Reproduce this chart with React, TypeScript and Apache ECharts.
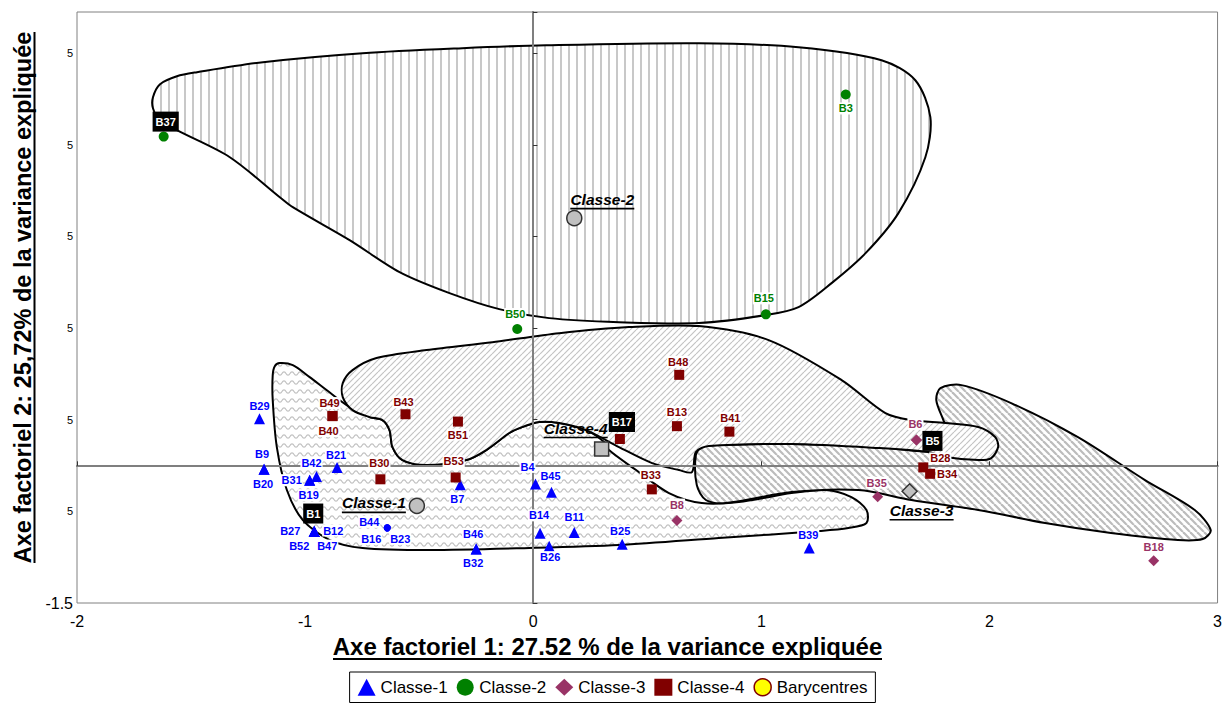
import React, { useEffect, useRef } from "react";
import * as echarts from "echarts";

// ---------------- Data ----------------
const class1Names = ["B29","B9","B20","B42","B31","B19","B21","B27","B12","B52","B47","B1","B44","B16","B23","B7","B46","B32","B4","B45","B14","B26","B11","B25","B39"];
const class1X = [-1.20,-1.18,-1.18,-0.95,-0.98,-0.98,-0.86,-0.96,-0.96,-0.96,-0.96,-0.96,-0.64,-0.64,-0.64,-0.32,-0.25,-0.25,0.01,0.08,0.03,0.07,0.18,0.39,1.21];
const class1Y = [0.51,-0.04,-0.04,-0.12,-0.16,-0.16,-0.02,-0.72,-0.72,-0.72,-0.72,-0.72,-0.68,-0.68,-0.68,-0.21,-0.91,-0.91,-0.20,-0.29,-0.74,-0.88,-0.73,-0.86,-0.90];
const class1SmallDots = ["B44","B16","B23"];

const class2Names = ["B37","B3","B15","B50"];
const class2X = [-1.62,1.37,1.02,-0.07];
const class2Y = [3.59,4.05,1.65,1.49];

const class3Names = ["B6","B5","B35","B8","B18"];
const class3X = [1.68,1.68,1.51,0.63,2.72];
const class3Y = [0.28,0.28,-0.34,-0.60,-1.04];

const class4Names = ["B49","B40","B43","B51","B30","B53","B48","B13","B41","B17","B33","B28","B34"];
const class4X = [-0.88,-0.88,-0.56,-0.33,-0.67,-0.34,0.64,0.63,0.86,0.38,0.52,1.71,1.74];
const class4Y = [0.54,0.54,0.56,0.48,-0.15,-0.13,0.99,0.43,0.37,0.29,-0.26,-0.02,-0.09];

const baryNames = ["Classe-1","Classe-2","Classe-3","Classe-4"];
const baryX = [-0.51,0.18,1.65,0.30];
const baryY = [-0.44,2.70,-0.28,0.18];
const barySymbols = ["circle","circle","diamond","rect"];

const boxedLabels = ["B1","B37","B5","B17"];

// Outlines of the hand-drawn class envelopes (data coordinates)
const region2X = [-1.667,-1.636,-1.562,-1.474,-1.185,-0.748,-0.311,0.057,0.726,1.163,1.527,1.675,1.741,1.719,1.601,1.457,1.308,1.163,1.019,0.726,0.376,0.070,-0.149,-0.367,-0.586,-0.805,-1.054,-1.111,-1.330,-1.562,-1.636,-1.667];
const region2Y = [4.020,4.162,4.249,4.293,4.402,4.500,4.555,4.587,4.609,4.565,4.424,4.205,3.802,3.365,2.755,2.318,1.991,1.729,1.642,1.555,1.565,1.609,1.707,1.882,2.111,2.460,2.820,2.929,3.365,3.660,3.769,3.900];

const region1X = [-1.111,-1.054,-0.980,-0.906,-0.818,-0.717,-0.661,-0.630,-0.617,-0.573,-0.468,-0.293,-0.206,-0.105,-0.061,0.026,0.114,0.232,0.311,0.332,0.451,0.595,0.739,0.901,1.133,1.282,1.395,1.461,1.461,1.382,1.251,0.814,0.376,-0.017,-0.455,-0.748,-0.892,-1.010,-1.080,-1.124,-1.142,-1.142,-1.133];
const region1Y = [1.118,1.096,0.965,0.824,0.660,0.529,0.496,0.387,0.202,0.060,0.005,0.060,0.169,0.355,0.409,0.475,0.464,0.387,0.256,0.169,-0.049,-0.300,-0.409,-0.398,-0.300,-0.267,-0.344,-0.485,-0.627,-0.682,-0.715,-0.791,-0.867,-0.900,-0.922,-0.900,-0.813,-0.595,-0.267,0.202,0.715,0.987,1.085];

const region3X = [0.713,0.739,0.814,1.133,1.514,1.776,1.820,1.798,1.767,1.785,1.877,2.095,2.388,2.682,2.900,2.970,2.935,2.826,2.533,2.244,1.951,1.658,1.426,1.133,0.844,0.757,0.717];
const region3Y = [0.115,0.202,0.224,0.235,0.202,0.158,0.333,0.496,0.715,0.845,0.878,0.682,0.311,-0.158,-0.485,-0.704,-0.802,-0.813,-0.736,-0.627,-0.485,-0.376,-0.267,-0.289,-0.409,-0.376,-0.213];

const region4X = [-0.835,-0.792,-0.687,-0.468,-0.179,0.114,0.420,0.726,1.032,1.352,1.544,1.658,1.806,1.951,2.025,2.038,2.008,1.951,1.806,1.732,1.514,1.133,0.770,0.713,0.696,0.639,0.521,0.376,0.232,0.114,0.026,-0.061,-0.105,-0.206,-0.293,-0.468,-0.573,-0.617,-0.630,-0.661,-0.717,-0.792,-0.835];
const region4Y = [0.900,1.042,1.173,1.260,1.347,1.445,1.511,1.522,1.369,0.933,0.573,0.496,0.464,0.420,0.311,0.202,0.082,0.060,0.093,0.147,0.191,0.235,0.213,0.147,-0.071,-0.049,0.027,0.202,0.387,0.464,0.475,0.409,0.355,0.169,0.060,0.005,0.060,0.202,0.387,0.496,0.529,0.605,0.747];

const xTicks = { min: -2, max: 3, interval: 1 };
const yTicks = { min: -1.5, max: 4.95, interval: 1 };

// ---------------- Layout / style ----------------
const FONT = '"Liberation Sans", Arial, sans-serif';
const labelOffsets: Record<string, number[]> = {
  B29: [0, -13], B9: [-2, -15], B20: [-1, 15], B42: [-5, -14], B31: [-18, 0], B19: [-1, 15],
  B21: [-1, -12], B27: [-24, -1], B12: [19, -1], B52: [-15, 14], B47: [13, 14], B1: [-1, -18],
  B44: [-18, -6], B16: [-16, 11], B23: [13, 11], B7: [-3, 14], B46: [-3, -15], B32: [-3, 14],
  B4: [-8, -17], B45: [-1, -16], B14: [-1, -18], B26: [1, 11], B11: [0, -15], B25: [-2, -13], B39: [-1, -13],
  B37: [2, -15], B3: [0, 14], B15: [-2, -16], B50: [-2, -15],
  B6: [-1, -16], B5: [16, 1], B35: [-1, -14], B8: [0, -16], B18: [0, -14],
  B49: [-3, -13], B40: [-4, 15], B43: [-2, -12], B51: [0, 13], B30: [-1, -16], B53: [-2, -16],
  B48: [-1, -13], B13: [0, -14], B41: [1, -14], B17: [2, -17], B33: [-1, -14], B28: [17, -9], B34: [17, 0],
  "Classe-1": [-43, -2], "Classe-2": [28, -18], "Classe-3": [12, 20], "Classe-4": [-26, -20],
};

function makePattern(kind: string) {
  const c = document.createElement("canvas");
  let w = 8, h = 8;
  if (kind === "wave") { w = 8; h = 9; }
  if (kind === "up") { w = 6; h = 6; }
  if (kind === "down") { w = 7; h = 7; }
  c.width = w; c.height = h;
  const g = c.getContext("2d")!;
  g.fillStyle = "#ffffff";
  g.fillRect(0, 0, w, h);
  if (kind === "vert") {
    g.fillStyle = "#c8c8c8";
    g.fillRect(0, 0, 2, h);
  } else if (kind === "up" || kind === "down") {
    g.strokeStyle = kind === "up" ? "#c4c4c4" : "#bcbcbc";
    g.lineWidth = kind === "up" ? 1.2 : 2.2;
    for (const k of [-w, 0, w]) {
      g.beginPath();
      if (kind === "up") { g.moveTo(k, h); g.lineTo(k + w, 0); }
      else { g.moveTo(k, 0); g.lineTo(k + w, h); }
      g.stroke();
    }
  } else if (kind === "wave") {
    g.strokeStyle = "#c0c0c0";
    g.lineWidth = 1.2;
    g.beginPath();
    for (let x = -1; x <= w + 1; x += 0.5) {
      const y = 4.5 + 1.7 * Math.cos((2 * Math.PI * x) / 8);
      if (x === -1) g.moveTo(x, y); else g.lineTo(x, y);
    }
    g.stroke();
  }
  return { image: c, repeat: "repeat", imageWidth: w, imageHeight: h };
}

function buildPoints(names: string[], xs: number[], ys: number[], color: string) {
  return names.map((n, i) => {
    const boxed = boxedLabels.includes(n);
    const small = class1SmallDots.includes(n);
    const item: any = {
      name: n,
      value: [xs[i], ys[i]],
      label: {
        show: true,
        formatter: n,
        position: "inside",
        offset: labelOffsets[n] || [0, -14],
        color: boxed ? "#ffffff" : color,
        fontWeight: "bold",
        fontSize: 11,
        fontFamily: FONT,
        backgroundColor: boxed ? "#000000" : "#ffffff",
        padding: boxed ? [5, 3, 4, 3] : [1, 1, 0, 1],
      },
    };
    if (small) { item.symbol = "circle"; item.symbolSize = 7; }
    return item;
  });
}

export default function App() {
  const ref = useRef<HTMLDivElement>(null);
  useEffect(() => {
    if (!ref.current) return;
    const chart = echarts.init(ref.current, undefined, { renderer: "svg" });

    const regions = [
      { xs: region2X, ys: region2Y, fill: makePattern("vert") },
      { xs: region1X, ys: region1Y, fill: makePattern("wave") },
      { xs: region3X, ys: region3Y, fill: makePattern("down") },
      { xs: region4X, ys: region4Y, fill: makePattern("up") },
    ];

    const zeroAxisX = (pos: string) => ({
      type: "value", ...xTicks, position: pos, z: 3,
      axisLine: { onZero: true, onZeroAxisIndex: 0, lineStyle: { color: "#7f7f7f", width: 2 } },
      axisTick: { show: true, length: 4, lineStyle: { color: "#333", width: 1 } },
      axisLabel: { show: false }, splitLine: { show: false },
    });
    const zeroAxisY = (pos: string) => ({
      type: "value", ...yTicks, position: pos, z: 3,
      axisLine: { onZero: true, onZeroAxisIndex: 0, lineStyle: { color: "#7f7f7f", width: 2 } },
      axisTick: { show: true, length: 4, lineStyle: { color: "#333", width: 1 } },
      axisLabel: { show: false }, splitLine: { show: false },
    });

    const baryData = baryNames.map((n, i) => ({
      name: n,
      value: [baryX[i], baryY[i]],
      symbol: barySymbols[i],
      symbolSize: barySymbols[i] === "rect" ? 14 : 15,
      label: {
        show: true,
        position: "inside",
        offset: labelOffsets[n],
        formatter: `{t|${n}}\n{u|}`,
        rich: {
          t: { fontSize: 15.5, fontWeight: "bold", fontStyle: "italic", fontFamily: FONT, color: "#000", lineHeight: 17 },
          u: { width: 64, height: 1.6, backgroundColor: "#000", lineHeight: 2 },
        },
      },
    }));

    const scatterBase = (name: string, symbol: string, size: number, color: string) => ({
      type: "scatter", name, z: 5, symbol, symbolSize: size,
      itemStyle: { color, opacity: 1 },
      emphasis: { disabled: true },
    });

    const option: any = {
      animation: false,
      backgroundColor: "#ffffff",
      grid: { left: 77, top: 12, right: 5, bottom: 101, show: true, borderColor: "#808080", borderWidth: 1 },
      xAxis: [
        {
          type: "value", ...xTicks, position: "bottom",
          axisLine: { show: false }, axisTick: { show: false }, splitLine: { show: false },
          axisLabel: { fontSize: 16, fontFamily: FONT, color: "#000", margin: 10 },
        },
        zeroAxisX("top"),
        zeroAxisX("top"),
      ],
      yAxis: [
        {
          type: "value", ...yTicks, position: "left",
          axisLine: { show: false }, axisTick: { show: false }, splitLine: { show: false },
          axisLabel: {
            margin: 4, fontFamily: FONT, color: "#000", fontSize: 16,
            formatter: (v: number) => (Math.abs(v + 1.5) < 1e-6 ? "-1.5" : v > 4.6 ? "" : "{s|5}"),
            rich: { s: { fontSize: 11, fontFamily: FONT, color: "#000" } },
          },
        },
        zeroAxisY("right"),
        zeroAxisY("right"),
      ],
      legend: {
        data: [
          { name: "Classe-1", icon: "triangle" },
          { name: "Classe-2", icon: "circle" },
          { name: "Classe-3", icon: "diamond" },
          { name: "Classe-4", icon: "rect" },
          { name: "Barycentres", icon: "circle", itemStyle: { color: "#ffff00", borderColor: "#800000", borderWidth: 1.5 } },
        ],
        left: "center",
        top: 672,
        itemWidth: 18,
        itemHeight: 17,
        itemGap: 9,
        padding: [6, 8, 6, 8],
        borderColor: "#000",
        borderWidth: 1,
        selectedMode: false,
        textStyle: { fontSize: 17, fontFamily: FONT, color: "#000", lineHeight: 18 },
      },
      graphic: [
        {
          type: "text", x: 23, y: 297.5, rotation: Math.PI / 2,
          style: { text: "Axe factoriel 2: 25,72% de la variance expliquée", font: `bold 23.5px ${FONT}`, fill: "#000", align: "center", verticalAlign: "middle" },
        },
        { type: "rect", shape: { x: 33.5, y: 32, width: 2, height: 531 }, style: { fill: "#000" } },
        {
          type: "text", x: 607.5, y: 646.5,
          style: { text: "Axe factoriel 1: 27.52 % de la variance expliquée", font: `bold 24px ${FONT}`, fill: "#000", align: "center", verticalAlign: "middle" },
        },
        { type: "rect", shape: { x: 333, y: 658, width: 549, height: 2 }, style: { fill: "#000" } },
      ],
      series: [
        {
          type: "custom",
          name: "envelopes",
          z: 1,
          silent: true,
          clip: false,
          data: regions.map((r, i) => [r.xs[0], r.ys[0], i]),
          encode: { x: 0, y: 1 },
          renderItem: (params: any, api: any) => {
            const r = regions[params.dataIndex];
            const pts = r.xs.map((x: number, i: number) => api.coord([x, r.ys[i]]));
            return {
              type: "polygon",
              shape: { points: pts, smooth: 0.3 },
              style: { fill: r.fill, stroke: "#000", lineWidth: 2 },
            };
          },
        },
        { ...scatterBase("Classe-1", "triangle", 11, "#0000ff"), data: buildPoints(class1Names, class1X, class1Y, "#0000ff") },
        { ...scatterBase("Classe-2", "circle", 10, "#008000"), data: buildPoints(class2Names, class2X, class2Y, "#008000") },
        { ...scatterBase("Classe-3", "diamond", 11, "#993366"), data: buildPoints(class3Names, class3X, class3Y, "#993366") },
        { ...scatterBase("Classe-4", "rect", 10, "#800000"), data: buildPoints(class4Names, class4X, class4Y, "#800000") },
        {
          type: "scatter", name: "Barycentres", z: 6, symbol: "circle",
          itemStyle: { color: "#c0c0c0", borderColor: "#333333", borderWidth: 1.5, opacity: 1 },
          emphasis: { disabled: true },
          data: baryData,
        },
      ],
    };
    chart.setOption(option);
    return () => chart.dispose();
  }, []);
  return (
    <div
      ref={ref}
      style={{ position: "fixed", left: 0, top: 0, width: 1225, height: 704, background: "#fff" }}
    />
  );
}
